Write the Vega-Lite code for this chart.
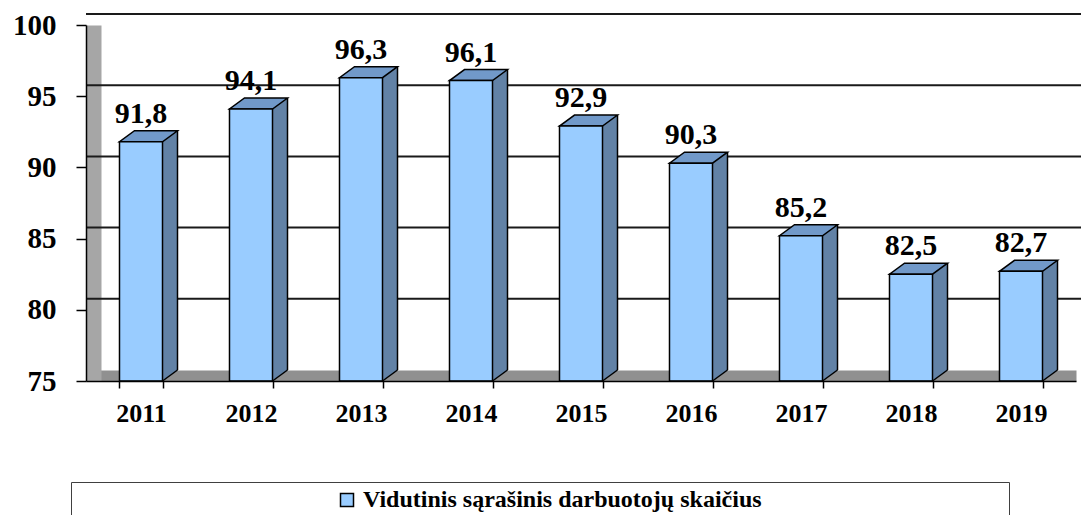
{
  "$schema": "https://vega.github.io/schema/vega-lite/v6.json",
  "width": 990,
  "height": 356,
  "autosize": {"type": "none"},
  "padding": {"left": 86, "top": 25, "right": 5, "bottom": 134},
  "config": {
    "view": {"stroke": null},
    "locale": {"number": {"decimal": ",", "thousands": " ", "grouping": [3], "currency": ["", ""]}},
    "axis": {"labelFont": "Liberation Serif", "labelFontWeight": "bold", "labelColor": "black", "domainColor": "black", "tickColor": "black", "titleFont": "Liberation Serif"}
  },
  "datasets": {
    "bars": [
      {"year": "2011", "value": 91.8},
      {"year": "2012", "value": 94.1},
      {"year": "2013", "value": 96.3},
      {"year": "2014", "value": 96.1},
      {"year": "2015", "value": 92.9},
      {"year": "2016", "value": 90.3},
      {"year": "2017", "value": 85.2},
      {"year": "2018", "value": 82.5},
      {"year": "2019", "value": 82.7}
    ],
    "grid": [{"tick": 80}, {"tick": 85}, {"tick": 90}, {"tick": 95}, {"tick": 100}]
  },
  "data": {"name": "bars"},
  "resolve": {"axis": {"x": "independent", "y": "independent"}},
  "layer": [
    {
      "data": {"name": "grid"},
      "mark": {"type": "rule", "xOffset": 15, "x2Offset": 15, "yOffset": -11, "stroke": "#1a1a1a", "strokeWidth": 2},
      "encoding": {
        "y": {
          "field": "tick", "type": "quantitative",
          "scale": {"domain": [75, 100], "nice": false, "zero": false},
          "axis": {
            "orient": "left", "offset": -7.5, "values": [75, 80, 85, 90, 95, 100],
            "labels": false, "ticks": false, "grid": false, "title": null,
            "domainColor": "#a6a6a6", "domainWidth": 15
          }
        }
      }
    },
    {
      "mark": {"type": "rule", "xOffset": 29, "yOffset": -11, "y2Offset": -11, "stroke": "#6282a6", "strokeWidth": 15, "strokeCap": "butt"},
      "encoding": {
        "x": {"field": "year", "type": "nominal", "axis": null},
        "y": {"field": "value", "type": "quantitative", "axis": null},
        "y2": {"datum": 75}
      }
    },
    {
      "mark": {"type": "point", "shape": "M21.5,0L21.5,-11L36.5,-11Z", "size": 4, "filled": true, "fill": "#6282a6", "strokeWidth": 0, "opacity": 1},
      "encoding": {
        "x": {"field": "year", "type": "nominal", "axis": {"orient": "bottom", "offset": -5.5, "domainColor": "#909090", "domainWidth": 11, "ticks": false, "labels": false, "title": null, "grid": false}},
        "y": {"datum": 75, "type": "quantitative", "axis": null}
      }
    },
    {
      "mark": {"type": "rule", "xOffset": 36.5, "yOffset": -11, "y2Offset": -11, "stroke": "black", "strokeWidth": 1.5},
      "encoding": {
        "x": {"field": "year", "type": "nominal", "axis": null},
        "y": {"field": "value", "type": "quantitative", "axis": null},
        "y2": {"datum": 75}
      }
    },
    {
      "mark": {"type": "point", "shape": "M21.5,0L36.5,-11", "size": 4, "filled": false, "stroke": "black", "strokeWidth": 1.5, "opacity": 1},
      "encoding": {
        "x": {"field": "year", "type": "nominal", "axis": null},
        "y": {"datum": 75, "type": "quantitative", "axis": null}
      }
    },
    {
      "mark": {"type": "point", "shape": "M-21.5,0L21.5,0L36.5,-11L-6.5,-11Z", "size": 4, "filled": true, "fill": "#7199c9", "stroke": "black", "strokeWidth": 1.5, "opacity": 1},
      "encoding": {
        "x": {"field": "year", "type": "nominal", "axis": null},
        "y": {"field": "value", "type": "quantitative", "axis": null}
      }
    },
    {
      "mark": {"type": "bar", "stroke": "black", "strokeWidth": 1.5},
      "encoding": {
        "x": {
          "field": "year", "type": "nominal",
          "scale": {"paddingInner": 0.609, "paddingOuter": 0.3045},
          "axis": {"orient": "bottom", "title": null, "labelAngle": 0, "labelFont": "Liberation Serif", "labelFontWeight": "bold", "labelFontSize": 26, "labelPadding": 12, "tickSize": 7, "tickWidth": 1.5, "tickBand": "extent", "domainWidth": 1.5, "grid": false, "zindex": 1}
        },
        "y": {
          "field": "value", "type": "quantitative",
          "scale": {"domain": [75, 100], "nice": false, "zero": false},
          "axis": {"orient": "left", "values": [75, 80, 85, 90, 95, 100], "title": null, "labelFont": "Liberation Serif", "labelFontWeight": "bold", "labelFontSize": 29, "tickSize": 10, "labelPadding": 20, "tickWidth": 1.5, "domainWidth": 1.5, "grid": false, "zindex": 1}
        },
        "y2": {"datum": 75},
        "fill": {
          "datum": "Vidutinis sąrašinis darbuotojų skaičius",
          "scale": {"range": ["#99ccff"]},
          "legend": {
            "orient": "none", "legendX": -15, "legendY": 457, "direction": "horizontal",
            "padding": 6, "strokeColor": "#404040", "fillColor": "white",
            "symbolType": "square", "symbolSize": 169, "symbolStrokeColor": "black", "symbolStrokeWidth": 1.5, "symbolOffset": 258,
            "labelFont": "Liberation Serif", "labelFontWeight": "bold", "labelFontSize": 24, "labelColor": "black", "labelLimit": 800, "labelOffset": 4,
            "title": "\u00a0", "titleOrient": "right", "titlePadding": 241, "titleFontSize": 1
          }
        }
      }
    },
    {
      "mark": {"type": "text", "font": "Liberation Serif", "fontWeight": "bold", "fontSize": 30, "baseline": "alphabetic", "dy": -19, "color": "black"},
      "encoding": {
        "x": {"field": "year", "type": "nominal", "axis": null},
        "y": {"field": "value", "type": "quantitative", "axis": null},
        "text": {"field": "value", "type": "quantitative", "format": ".1f"}
      }
    }
  ]
}
